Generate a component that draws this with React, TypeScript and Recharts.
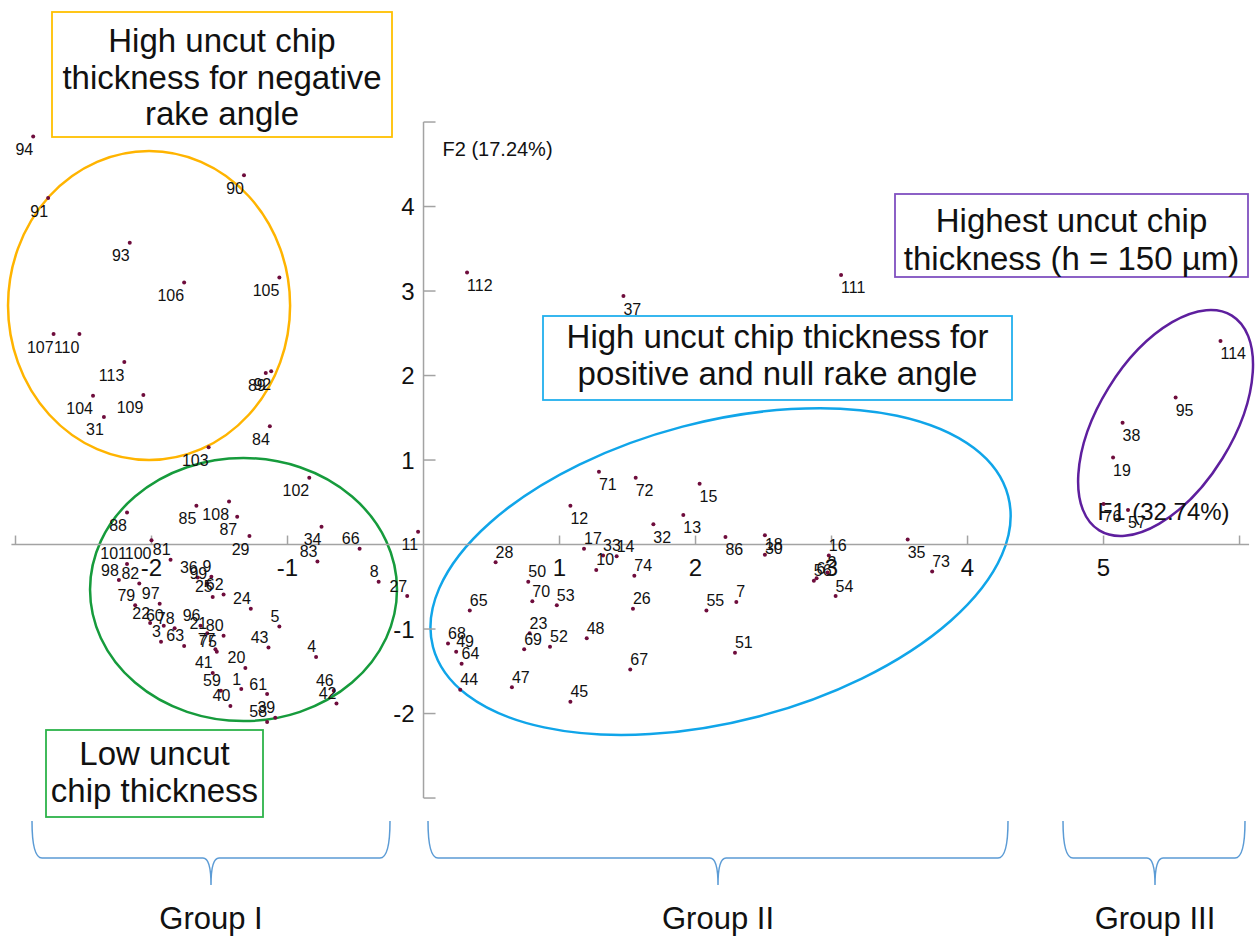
import { ScatterChart, Scatter, XAxis, YAxis, ReferenceLine, ReferenceArea } from 'recharts';

// PCA observations: [label, F1, F2]
type Obs = [string, number, number];

const negativeRakeObs: Obs[] = [
  ['94', -2.87, 4.83], ['90', -1.32, 4.37], ['91', -2.76, 4.10], ['93', -2.16, 3.57],
  ['106', -1.76, 3.10], ['105', -1.06, 3.16], ['107', -2.72, 2.49], ['110', -2.53, 2.49],
  ['113', -2.20, 2.16], ['89', -1.16, 2.03], ['92', -1.12, 2.05], ['104', -2.43, 1.76],
  ['109', -2.06, 1.77], ['31', -2.35, 1.51], ['84', -1.13, 1.40], ['103', -1.58, 1.15],
];

const lowThicknessObs: Obs[] = [
  ['88', -2.18, 0.38], ['85', -1.67, 0.46], ['108', -1.43, 0.51], ['87', -1.37, 0.33],
  ['29', -1.28, 0.10], ['102', -0.84, 0.79], ['34', -0.75, 0.21], ['83', -0.78, -0.20],
  ['66', -0.47, -0.05], ['11', -0.04, 0.15], ['101', -2.18, -0.23], ['100', -2.0, 0.05],
  ['81', -1.86, -0.18], ['98', -2.24, -0.42], ['82', -2.09, -0.46], ['36', -1.66, -0.39],
  ['9', -1.56, -0.38], ['99', -1.59, -0.46], ['25', -1.55, -0.62], ['62', -1.47, -0.59],
  ['79', -2.12, -0.72], ['97', -1.94, -0.70], ['24', -1.27, -0.76], ['22', -2.01, -0.93],
  ['60', -1.91, -0.96], ['78', -1.83, -0.99], ['96', -1.64, -0.96], ['21', -1.59, -1.05],
  ['80', -1.47, -1.08], ['3', -1.93, -1.15], ['63', -1.76, -1.20], ['75', -1.52, -1.27],
  ['77', -1.53, -1.24], ['5', -1.06, -0.97], ['43', -1.14, -1.22], ['4', -0.79, -1.33],
  ['41', -1.55, -1.52], ['20', -1.31, -1.46], ['59', -1.49, -1.73], ['1', -1.34, -1.71],
  ['61', -1.15, -1.77], ['40', -1.42, -1.91], ['46', -0.66, -1.73], ['42', -0.64, -1.88],
  ['58', -1.15, -2.10], ['39', -1.09, -2.05], ['8', -0.33, -0.44], ['27', -0.12, -0.61],
];

const positiveRakeObs: Obs[] = [
  ['112', 0.32, 3.22], ['37', 1.47, 2.94], ['111', 3.07, 3.19], ['71', 1.29, 0.86],
  ['72', 1.56, 0.79], ['12', 1.08, 0.46], ['15', 2.03, 0.72], ['13', 1.91, 0.35],
  ['32', 1.69, 0.24], ['17', 1.18, -0.05], ['33', 1.32, -0.13], ['14', 1.42, -0.14],
  ['10', 1.27, -0.30], ['86', 2.22, 0.09], ['30', 2.51, 0.11], ['18', 2.51, -0.12],
  ['16', 2.98, -0.13], ['35', 3.56, 0.06], ['73', 3.74, -0.32], ['28', 0.53, -0.21],
  ['50', 0.77, -0.44], ['70', 0.80, -0.67], ['53', 0.98, -0.72], ['74', 1.55, -0.37],
  ['26', 1.54, -0.76], ['65', 0.34, -0.78], ['55', 2.08, -0.78], ['7', 2.30, -0.68],
  ['56', 2.87, -0.43], ['6', 2.89, -0.40], ['2', 2.97, -0.33], ['54', 3.03, -0.61],
  ['23', 0.78, -1.05], ['69', 0.74, -1.24], ['52', 0.93, -1.21], ['48', 1.20, -1.11],
  ['68', 0.18, -1.17], ['49', 0.24, -1.27], ['64', 0.28, -1.41], ['67', 1.52, -1.48],
  ['51', 2.29, -1.28], ['44', 0.27, -1.72], ['47', 0.65, -1.69], ['45', 1.08, -1.86],
];

const highestObs: Obs[] = [
  ['114', 5.86, 2.41], ['95', 5.53, 1.74], ['38', 5.14, 1.44], ['19', 5.07, 1.03],
  ['76', 5.00, 0.48], ['57', 5.18, 0.41],
];

const xTicks = [-3, -2, -1, 1, 2, 3, 4, 5, 6];
const yTicks = [-3, -2, -1, 1, 2, 3, 4, 5];
const xTickLabels = [-2, -1, 1, 2, 3, 4, 5];
const yTickLabels = [-2, -1, 1, 2, 3, 4];

const W = 1259;
const H = 952;
const X_DOMAIN: [number, number] = [-3.114, 6.143];
const Y_DOMAIN: [number, number] = [-4.822, 6.444];

const FONT = '"Liberation Sans", Arial, sans-serif';
const DOT = '#6e0c3c';
const AXIS = '#a3a3a3';
const ORANGE = '#FFB400';
const GREEN = '#169B3C';
const BLUE = '#10A5E9';
const PURPLE = '#5E1F9E';
const BRACE = '#5B9BD5';

const rows = (obs: Obs[]) => obs.map(([label, x, y]) => ({ label, x, y }));

const PointShape = (props: any) => {
  const { cx, cy, payload } = props;
  const left = payload.x < 0;
  const below = payload.y >= 0;
  return (
    <g>
      <circle cx={cx} cy={cy} r={2} fill={DOT} />
      <text
        x={cx}
        y={below ? cy + 18.5 : cy - 4.5}
        textAnchor={left ? 'end' : 'start'}
        fontSize={16}
        fontFamily={FONT}
        fill="#111"
      >
        {payload.label}
      </text>
    </g>
  );
};

// ellipse drawn inside the reference area's box, rotated around its centre
const ellipseShape = (color: string, angle: number) => (props: any) => {
  const { x, y, width, height } = props;
  const cx = x + width / 2;
  const cy = y + height / 2;
  return (
    <ellipse
      cx={cx}
      cy={cy}
      rx={Math.abs(width) / 2}
      ry={Math.abs(height) / 2}
      transform={`rotate(${angle} ${cx} ${cy})`}
      fill="none"
      stroke={color}
      strokeWidth={2.5}
    />
  );
};

const Brace = ({ x1, x2, xm }: { x1: number; x2: number; xm: number }) => {
  const y0 = 821, y1 = 858, y2 = 885;
  const d = `M ${x1} ${y0} Q ${x1} ${y1} ${x1 + 10} ${y1} L ${xm - 8} ${y1} Q ${xm} ${y1} ${xm} ${y2} Q ${xm} ${y1} ${xm + 8} ${y1} L ${x2 - 10} ${y1} Q ${x2} ${y1} ${x2} ${y0}`;
  return <path d={d} fill="none" stroke={BRACE} strokeWidth={1.5} />;
};

const Box = ({ x, y, w, h, color, lines, baselines }: any) => (
  <g>
    <rect x={x} y={y} width={w} height={h} fill="#fff" stroke={color} strokeWidth={1.8} />
    {lines.map((t: string, i: number) => (
      <text key={i} x={x + w / 2} y={baselines[i]} textAnchor="middle" fontSize={33} fontFamily={FONT} fill="#111">
        {t}
      </text>
    ))}
  </g>
);

export default function App() {
  return (
    <div style={{ position: 'absolute', top: 0, left: 0, width: W, height: H, background: '#fff' }}>
      <ScatterChart width={W} height={H} margin={{ top: 0, right: 0, bottom: 0, left: 0 }}>
        <XAxis type="number" dataKey="x" domain={X_DOMAIN} hide allowDataOverflow />
        <YAxis type="number" dataKey="y" domain={Y_DOMAIN} hide allowDataOverflow />

        <ReferenceLine segment={[{ x: 0, y: -3 }, { x: 0, y: 5 }]} stroke={AXIS} strokeWidth={1.5} ifOverflow="visible" />
        <ReferenceLine segment={[{ x: -3.03, y: 0 }, { x: 6.07, y: 0 }]} stroke={AXIS} strokeWidth={1.5} ifOverflow="visible" />

        <ReferenceArea x1={-3.055} x2={-0.981} y1={1.0} y2={4.657} ifOverflow="visible" shape={ellipseShape(ORANGE, 0)} />
        <ReferenceArea x1={-2.452} x2={-0.195} y1={-2.089} y2={1.024} ifOverflow="visible" shape={ellipseShape(GREEN, 0)} />
        <ReferenceArea x1={-0.002} x2={4.37} y1={-2.093} y2={1.453} ifOverflow="visible" shape={ellipseShape(BLUE, -14.7)} />
        <ReferenceArea x1={4.528} x2={6.384} y1={0.645} y2={2.231} ifOverflow="visible" shape={ellipseShape(PURPLE, -58.3)} />

        <Scatter
          data={xTicks.map((v) => ({ x: v, y: 0 }))}
          isAnimationActive={false}
          shape={(p: any) => <line x1={p.cx} y1={p.cy} x2={p.cx} y2={p.cy - 9} stroke={AXIS} strokeWidth={1.5} />}
        />
        <Scatter
          data={yTicks.map((v) => ({ x: 0, y: v }))}
          isAnimationActive={false}
          shape={(p: any) => <line x1={p.cx} y1={p.cy} x2={p.cx + 12} y2={p.cy} stroke={AXIS} strokeWidth={1.5} />}
        />
        <Scatter
          data={xTickLabels.map((v) => ({ x: v, y: 0 }))}
          isAnimationActive={false}
          shape={(p: any) => (
            <text x={p.cx} y={p.cy + 31} textAnchor="middle" fontSize={24} fontFamily={FONT} fill="#111">
              {p.payload.x}
            </text>
          )}
        />
        <Scatter
          data={yTickLabels.map((v) => ({ x: 0, y: v }))}
          isAnimationActive={false}
          shape={(p: any) => (
            <text x={p.cx - 9} y={p.cy + 8.5} textAnchor="end" fontSize={24} fontFamily={FONT} fill="#111">
              {p.payload.y}
            </text>
          )}
        />
        <Scatter
          data={[{ x: 0, y: 5 }]}
          isAnimationActive={false}
          shape={(p: any) => (
            <text x={p.cx + 19} y={p.cy + 34} fontSize={20} fontFamily={FONT} fill="#111">F2 (17.24%)</text>
          )}
        />
        <Scatter
          data={[{ x: 5, y: 0 }]}
          isAnimationActive={false}
          shape={(p: any) => (
            <text x={p.cx - 6} y={p.cy - 25} fontSize={24} fontFamily={FONT} fill="#111">F1 (32.74%)</text>
          )}
        />

        <Scatter data={rows(negativeRakeObs)} isAnimationActive={false} shape={PointShape} />
        <Scatter data={rows(lowThicknessObs)} isAnimationActive={false} shape={PointShape} />
        <Scatter data={rows(positiveRakeObs)} isAnimationActive={false} shape={PointShape} />
        <Scatter data={rows(highestObs)} isAnimationActive={false} shape={PointShape} />
      </ScatterChart>

      <svg width={W} height={H} style={{ position: 'absolute', top: 0, left: 0, pointerEvents: 'none' }}>
        <Box x={52} y={12} w={340} h={125} color="#FFC000"
          lines={['High uncut chip', 'thickness for negative', 'rake angle']} baselines={[52, 89, 125]} />
        <Box x={543} y={316} w={469} h={84} color="#22B0EE"
          lines={['High uncut chip thickness for', 'positive and null rake angle']} baselines={[348, 385]} />
        <Box x={895} y={194} w={353} h={83} color="#8050C0"
          lines={['Highest uncut chip', 'thickness (h = 150 µm)']} baselines={[232, 270]} />
        <Box x={46} y={730} w={217} h={87} color="#2DB34A"
          lines={['Low uncut', 'chip thickness']} baselines={[765, 802]} />

        <Brace x1={32} x2={390} xm={211} />
        <Brace x1={428} x2={1008} xm={718} />
        <Brace x1={1063} x2={1245} xm={1155} />
        {[['Group I', 211], ['Group II', 718], ['Group III', 1155]].map(([t, x]) => (
          <text key={t as string} x={x as number} y={929} textAnchor="middle" fontSize={31} fontFamily={FONT} fill="#111">
            {t}
          </text>
        ))}
      </svg>
    </div>
  );
}
